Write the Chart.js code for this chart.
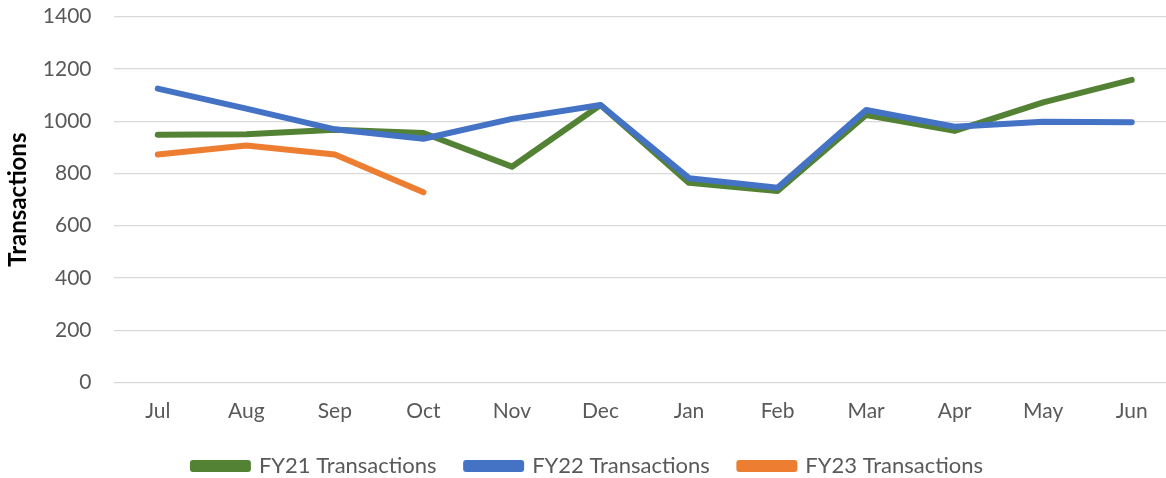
<!DOCTYPE html>
<html>
<head>
<meta charset="utf-8">
<script src="https://cdn.jsdelivr.net/npm/chart.js@4/dist/chart.umd.min.js"></script>
<style>
    html, body { margin: 0; padding: 0; background: #fff; overflow: hidden; }
    #wrap { width: 1180px; height: 487px; }
</style>
</head>
<body>
<div id="wrap"><canvas id="myChart"></canvas></div>
<script>
const months = ['Jul','Aug','Sep','Oct','Nov','Dec','Jan','Feb','Mar','Apr','May','Jun']

const fy21 = [948, 950, 967, 955, 826, 1062, 764, 733, 1024, 963, 1072, 1158]
const fy22 = [1125, 1048, 969, 933, 1009, 1062, 782, 745, 1043, 979, 998, 996]
const fy23 = [873, 907, 873, 728]

const yTicks = [0, 200, 400, 600, 800, 1000, 1200, 1400]

const fontFamily = 'Lato, "Open Sans", sans-serif'

const ctx = document.getElementById('myChart').getContext('2d')

function line(label, data, color, order) {
    return {
        label: label,
        data: data,
        borderColor: color,
        backgroundColor: color,
        borderWidth: 6,
        borderCapStyle: 'round',
        borderJoinStyle: 'round',
        pointRadius: 0,
        tension: 0,
        order: order,
    }
}

new Chart(ctx, {
    type: 'line',
    data: {
        labels: months,
        datasets: [
            line('FY21 Transactions', fy21, '#548235', 1),
            line('FY22 Transactions', fy22, '#4472C4', 0),
            line('FY23 Transactions', fy23, '#ED7D31', 2),
        ]
    },
    options: {
        responsive: true,
        maintainAspectRatio: false,
        animation: false,
        layout: {
            padding: { top: 0, right: 4, left: 0, bottom: 0 }
        },
        plugins: {
            tooltip: { enabled: false },
            legend: {
                position: 'bottom',
                labels: {
                    sort: (a, b) => a.datasetIndex - b.datasetIndex,
                    boxWidth: 55,
                    boxHeight: 6,
                    padding: 29.5,
                    color: '#595959',
                    font: { family: fontFamily, size: 22 },
                }
            }
        },
        scales: {
            x: {
                offset: true,
                grid: { display: false, drawTicks: false },
                border: { display: false },
                ticks: {
                    color: '#595959',
                    padding: 16,
                    maxRotation: 0,
                    font: { family: fontFamily, size: 21 },
                },
                afterFit: (scale) => { scale.height = 43 }
            },
            y: {
                min: 0,
                max: 1400,
                afterBuildTicks: (axis) => {
                    axis.ticks = yTicks.map(v => ({ value: v }))
                },
                afterFit: (scale) => {
                    scale.width = 113.5
                    scale.paddingTop = 16.7
                },
                grid: { color: '#d9d9d9', lineWidth: 1.3, drawTicks: false },
                border: { display: false },
                ticks: {
                    color: '#595959',
                    padding: 22,
                    callback: (v) => String(v),
                    font: { family: fontFamily, size: 21 },
                },
                title: {
                    display: true,
                    text: 'Transactions',
                    color: '#000',
                    padding: { top: 4, bottom: 0 },
                    font: { family: fontFamily, size: 24, weight: 'bold' },
                }
            }
        }
    }
})
</script>
</body>
</html>
